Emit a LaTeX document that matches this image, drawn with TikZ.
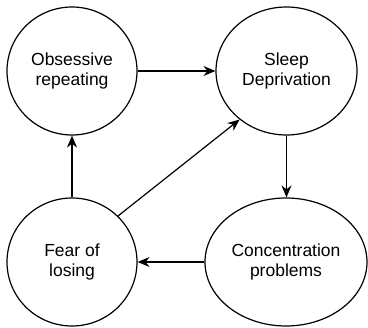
\documentclass[tikz,border=0pt]{standalone}
\usepackage{fontspec}
\setmainfont{Liberation Sans}
\usetikzlibrary{shapes.geometric,arrows.meta}
\begin{document}
\begin{tikzpicture}[x=1pt,y=-1pt,
  bubble/.style={draw, ellipse, line width=1.2pt, align=center, inner sep=0pt,
    minimum height=128pt, font=\fontsize{17.5}{20.5}\selectfont},
  link/.style={line width=1.2pt, -{Stealth[length=12pt,width=10pt,inset=4pt]}}]
\useasboundingbox (0,0) rectangle (368,328);
% the four stages of the cycle
\node[bubble, minimum width=130pt] (obs)   at (72,71)    {Obsessive\\repeating};
\node[bubble, minimum width=141pt] (sleep) at (286.5,71) {Sleep\\Deprivation};
\node[bubble, minimum width=130pt] (fear)  at (72,262)   {Fear of\\losing};
\node[bubble, minimum width=162pt] (conc)  at (286,262)  {Concentration\\problems};
% connections between stages
\draw[link] (obs.east) -- (sleep.west |- obs.east);
\draw[link] (sleep.south) -- (sleep.south |- conc.north);
\draw[link] (conc.west) -- (fear.east);
\draw[link] (fear.north) -- (obs.south);
\draw[link] (fear.45) -- (sleep.226);
\end{tikzpicture}
\end{document}
